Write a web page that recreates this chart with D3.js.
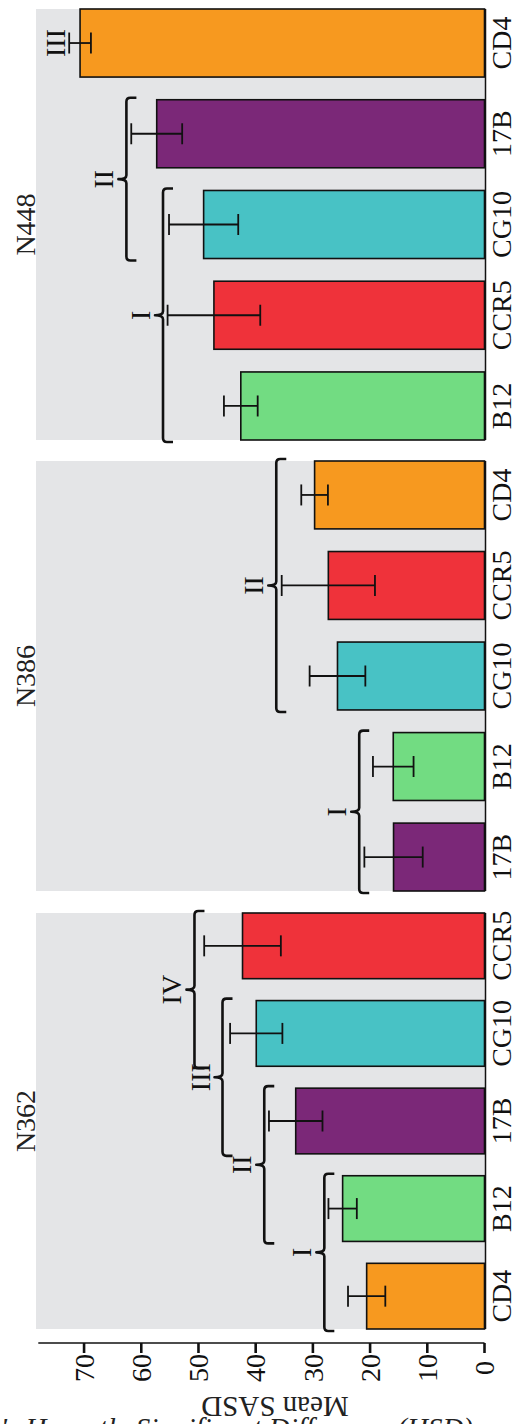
<!DOCTYPE html>
<html>
<head>
<meta charset="utf-8">
<script src="https://cdn.jsdelivr.net/npm/d3@7/dist/d3.min.js"></script>
<style>
  html, body { margin: 0; padding: 0; background: #ffffff; }
  svg { display: block; }
  text { font-family: "Liberation Serif", "Times New Roman", serif; fill: #111; }
</style>
</head>
<body>
<svg id="chart" width="515" height="1424"></svg>
<script>
// ---- data -------------------------------------------------------------
const panelNames = ["N448", "N386", "N362"];

const categoriesN448 = ["CD4", "17B", "CG10", "CCR5", "B12"];
const meansN448      = [70.7, 57.3, 49.1, 47.3, 42.6];
const errorsN448     = [1.9, 4.45, 6.05, 8.1, 2.95];
const groupLabelsN448  = ["III", "II", "I"];
const groupMembersN448 = [["CD4"], ["17B", "CG10"], ["CG10", "CCR5", "B12"]];
const groupLevelsN448  = [73.4, 62.6, 56.2];

const categoriesN386 = ["CD4", "CCR5", "CG10", "B12", "17B"];
const meansN386      = [29.7, 27.3, 25.7, 15.95, 15.9];
const errorsN386     = [2.33, 8.15, 4.87, 3.55, 5.1];
const groupLabelsN386  = ["II", "I"];
const groupMembersN386 = [["CD4", "CCR5", "CG10"], ["B12", "17B"]];
const groupLevelsN386  = [36.4, 21.9];

const categoriesN362 = ["CCR5", "CG10", "17B", "B12", "CD4"];
const meansN362      = [42.3, 39.9, 33.0, 24.8, 20.6];
const errorsN362     = [6.7, 4.57, 4.68, 2.48, 3.26];
const groupLabelsN362  = ["IV", "III", "II", "I"];
const groupMembersN362 = [["CCR5", "CG10"], ["CG10", "17B"], ["17B", "B12"], ["B12", "CD4"]];
const groupLevelsN362  = [50.7, 45.8, 38.5, 28.0];

const tickValues = [0, 10, 20, 30, 40, 50, 60, 70];
const axisTitle = "Mean SASD";
const captionText = "Tukey's Honestly Significant Difference (HSD)";

const colorCategories = ["CD4", "17B", "CG10", "CCR5", "B12"];
const colorValues     = ["#F7991F", "#7B2878", "#48C2C5", "#EF323A", "#72DC82"];

// ---- assemble panel tables --------------------------------------------
const panels = [
  { name: panelNames[0], cats: categoriesN448, means: meansN448, errs: errorsN448,
    gLabels: groupLabelsN448, gMembers: groupMembersN448, gLevels: groupLevelsN448, top: 9, bottom: 440 },
  { name: panelNames[1], cats: categoriesN386, means: meansN386, errs: errorsN386,
    gLabels: groupLabelsN386, gMembers: groupMembersN386, gLevels: groupLevelsN386, top: 461, bottom: 891 },
  { name: panelNames[2], cats: categoriesN362, means: meansN362, errs: errorsN362,
    gLabels: groupLabelsN362, gMembers: groupMembersN362, gLevels: groupLevelsN362, top: 913, bottom: 1329 }
];

// ---- layout -----------------------------------------------------------
const svg = d3.select("#chart");
const zeroX = 484.5, leftX = 38.3;
const panelLeft = 36;
const axisY = 1343;
const fontSize = 28;

const x = d3.scaleLinear().domain([0, 78]).range([zeroX, leftX]);
const color = d3.scaleOrdinal().domain(colorCategories).range(colorValues);

panels.forEach(p => {
  const g = svg.append("g");
  const y = d3.scaleBand().domain(p.cats).range([p.top, p.bottom])
    .paddingInner(0.25).paddingOuter(0);

  // panel background
  g.append("rect")
    .attr("x", panelLeft).attr("y", p.top)
    .attr("width", zeroX + 1.5 - panelLeft).attr("height", p.bottom - p.top)
    .attr("fill", "#E4E5E7");

  // panel title strip
  g.append("text")
    .attr("transform", `translate(35,${(p.top + p.bottom) / 2}) rotate(-90)`)
    .attr("text-anchor", "middle")
    .style("font-size", fontSize + "px")
    .style("fill", "#222")
    .text(p.name);

  const rows = p.cats.map((c, i) => ({ cat: c, mean: p.means[i], err: p.errs[i] }));

  // bars
  g.selectAll("rect.bar").data(rows).join("rect")
    .attr("class", "bar")
    .attr("x", d => x(d.mean))
    .attr("y", d => y(d.cat))
    .attr("width", d => x(0) - x(d.mean))
    .attr("height", y.bandwidth())
    .attr("fill", d => color(d.cat))
    .attr("stroke", "#111")
    .attr("stroke-width", 1.6);

  // error bars
  const eb = g.selectAll("g.err").data(rows).join("g").attr("class", "err")
    .attr("stroke", "#111").attr("stroke-width", 1.8).attr("fill", "none");
  const capH = 10.5;
  eb.append("line")
    .attr("x1", d => x(d.mean + d.err)).attr("x2", d => x(d.mean - d.err))
    .attr("y1", d => y(d.cat) + y.bandwidth() / 2).attr("y2", d => y(d.cat) + y.bandwidth() / 2);
  eb.append("line")
    .attr("x1", d => x(d.mean + d.err)).attr("x2", d => x(d.mean + d.err))
    .attr("y1", d => y(d.cat) + y.bandwidth() / 2 - capH).attr("y2", d => y(d.cat) + y.bandwidth() / 2 + capH);
  eb.append("line")
    .attr("x1", d => x(d.mean - d.err)).attr("x2", d => x(d.mean - d.err))
    .attr("y1", d => y(d.cat) + y.bandwidth() / 2 - capH).attr("y2", d => y(d.cat) + y.bandwidth() / 2 + capH);

  // category axis line
  g.append("line")
    .attr("x1", zeroX + 1).attr("x2", zeroX + 1)
    .attr("y1", p.top).attr("y2", p.bottom)
    .attr("stroke", "#111").attr("stroke-width", 1.5);

  // category labels
  g.selectAll("text.cat").data(rows).join("text")
    .attr("class", "cat")
    .attr("transform", d => `translate(510.5,${y(d.cat) + y.bandwidth() / 2}) rotate(-90)`)
    .attr("text-anchor", "middle")
    .style("font-size", fontSize + "px")
    .text(d => d.cat);

  // grouping brackets with roman numerals
  const groups = p.gLabels.map((lab, i) => ({ label: lab, members: p.gMembers[i], level: p.gLevels[i] }));
  groups.forEach(gr => {
    const ys = gr.members.map(m => y(m));
    const y0 = d3.min(ys) - 2;
    const y1 = d3.max(ys) + y.bandwidth() + 2;
    const ym = (y0 + y1) / 2;
    const bx = x(gr.level);
    let labelX;
    if (gr.members.length > 1) {
      const hook = 10, r = 4, notch = 8;
      const path = d3.path();
      path.moveTo(bx + hook, y0);
      path.lineTo(bx + r, y0);
      path.quadraticCurveTo(bx, y0, bx, y0 + r);
      path.lineTo(bx, ym - r);
      path.quadraticCurveTo(bx, ym, bx - notch, ym);
      path.quadraticCurveTo(bx, ym, bx, ym + r);
      path.lineTo(bx, y1 - r);
      path.quadraticCurveTo(bx, y1, bx + r, y1);
      path.lineTo(bx + hook, y1);
      g.append("path").attr("d", path.toString())
        .attr("fill", "none").attr("stroke", "#111").attr("stroke-width", 2.6)
        .attr("stroke-linejoin", "round");
      labelX = bx - 13;
    } else {
      labelX = bx;
    }
    g.append("text")
      .attr("transform", `translate(${labelX},${ym}) rotate(-90)`)
      .attr("text-anchor", "middle")
      .style("font-size", fontSize + "px")
      .text(gr.label);
  });
});

// ---- value axis -------------------------------------------------------
const ax = svg.append("g");
ax.append("line")
  .attr("x1", leftX).attr("x2", zeroX)
  .attr("y1", axisY).attr("y2", axisY)
  .attr("stroke", "#111").attr("stroke-width", 1.5);
ax.selectAll("line.tick").data(tickValues).join("line")
  .attr("class", "tick")
  .attr("x1", d => x(d)).attr("x2", d => x(d))
  .attr("y1", axisY).attr("y2", axisY + 10)
  .attr("stroke", "#111").attr("stroke-width", 2.6);
ax.selectAll("text.tick").data(tickValues).join("text")
  .attr("class", "tick")
  .attr("transform", d => `translate(${x(d)},1368) rotate(-90)`)
  .attr("text-anchor", "middle")
  .attr("dy", "0.35em")
  .style("font-size", fontSize + "px")
  .text(d => d);

// axis title, upside-down
svg.append("text")
  .attr("transform", "translate(275,1397) rotate(180)")
  .attr("text-anchor", "middle")
  .style("font-size", "29px")
  .style("fill", "#222")
  .text(axisTitle);

// caption, running off the bottom edge
svg.append("text")
  .attr("x", 473).attr("y", 1438)
  .attr("text-anchor", "end")
  .style("font-size", "29px")
  .style("font-style", "italic")
  .style("fill", "#222")
  .text(captionText);
</script>
</body>
</html>
